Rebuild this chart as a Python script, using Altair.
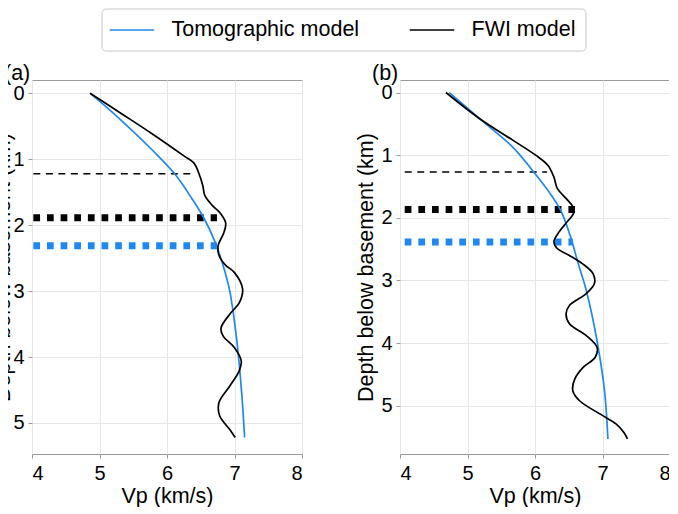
import altair as alt
import pandas as pd

FONT = "Liberation Sans"
SERIES = ["Tomographic model", "FWI model"]
COLORS = ["#1f87f0", "#000000"]
X_TICKS = [4, 5, 6, 7, 8]
Y_TICKS = [0, 1, 2, 3, 4, 5]
PANEL_LABELS = ["(a)", "(b)"]

# Panel (a)
A_TOMO_DEPTH = [0, 0.40, 0.88, 1.23, 1.60, 1.90, 2.25, 2.61, 3.0, 3.63, 4.0, 4.59, 5.22]
A_TOMO_VP = [4.86, 5.31, 5.80, 6.12, 6.37, 6.55, 6.71, 6.83, 6.93, 7.02, 7.06, 7.11, 7.15]
A_FWI_DEPTH = [0, 0.30, 0.63, 0.95, 1.06, 1.21, 1.40, 1.55, 1.70, 1.82, 1.97, 2.12, 2.30,
               2.42, 2.52, 2.61, 2.72, 2.97, 3.18, 3.35, 3.56, 3.68, 3.86, 4.06, 4.21,
               4.44, 4.69, 4.89, 5.10, 5.22]
A_FWI_VP = [4.86, 5.31, 5.80, 6.25, 6.40, 6.47, 6.53, 6.56, 6.67, 6.79, 6.87, 6.84, 6.76,
            6.76, 6.80, 6.87, 7.00, 7.12, 7.07, 6.93, 6.80, 6.83, 7.00, 7.10, 7.07,
            6.93, 6.77, 6.78, 6.93, 7.01]

# Panel (b)
B_TOMO_DEPTH = [0, 0.41, 0.87, 1.24, 1.59, 1.88, 2.28, 2.73, 3.16, 3.91, 4.76, 5.53]
B_TOMO_VP = [4.73, 5.17, 5.67, 5.96, 6.21, 6.38, 6.52, 6.64, 6.76, 6.91, 7.03, 7.08]
B_FWI_DEPTH = [0, 0.41, 0.76, 1.0, 1.16, 1.35, 1.53, 1.69, 1.82, 1.93, 2.06, 2.22, 2.38,
               2.49, 2.60, 2.73, 2.89, 3.05, 3.21, 3.40, 3.53, 3.69, 3.88, 4.07, 4.23,
               4.39, 4.57, 4.76, 4.92, 5.13, 5.29, 5.43, 5.53]
B_FWI_VP = [4.68, 5.17, 5.67, 6.01, 6.19, 6.28, 6.33, 6.46, 6.56, 6.57, 6.48, 6.36, 6.28,
            6.33, 6.51, 6.70, 6.86, 6.88, 6.76, 6.51, 6.46, 6.51, 6.76, 6.92, 6.89,
            6.71, 6.59, 6.56, 6.66, 6.96, 7.20, 7.32, 7.37]

# Horizontal marker lines: depth, start vp, end vp
A_MARK_DEPTH = [1.222, 1.889, 2.313]
A_MARK_X1 = [4.02, 4.02, 4.02]
A_MARK_X2 = [6.345, 6.74, 6.74]
B_MARK_DEPTH = [1.268, 1.869, 2.386]
B_MARK_X1 = [4.07, 4.07, 4.07]
B_MARK_X2 = [6.18, 6.593, 6.56]
MARK_KIND = ["thin", "black", "blue"]

A_YDOMAIN = [-0.2, 5.47]
B_YDOMAIN = [-0.2, 5.77]


def curves(tomo_d, tomo_v, fwi_d, fwi_v):
    rows = []
    for i, (d, v) in enumerate(zip(tomo_d, tomo_v)):
        rows.append({"model": SERIES[0], "depth": d, "vp": v, "idx": i})
    for i, (d, v) in enumerate(zip(fwi_d, fwi_v)):
        rows.append({"model": SERIES[1], "depth": d, "vp": v, "idx": i})
    return pd.DataFrame(rows)


def marks(depth, x1, x2):
    return pd.DataFrame({"kind": MARK_KIND, "depth": depth, "x1": x1, "x2": x2})


def panel(cdf, mdf, ydomain, label, ytitle_x):
    xs = alt.Scale(domain=[4, 8], nice=False, zero=False)
    ys = alt.Scale(domain=ydomain, reverse=True, nice=False, zero=False)
    xax = alt.Axis(values=X_TICKS, title="Vp (km/s)", format="d", grid=True)
    yax = alt.Axis(values=Y_TICKS, title="Depth below basement (km)", format="d",
                   grid=True, titleX=ytitle_x, titleBaseline="alphabetic")

    mb = alt.Chart(mdf)
    thin = mb.transform_filter(alt.datum.kind == "thin").mark_rule(
        color="black", strokeWidth=1.4, strokeDash=[7, 5.5]
    ).encode(x=alt.X("x1:Q", scale=xs, axis=xax), x2="x2:Q",
             y=alt.Y("depth:Q", scale=ys, axis=yax))
    blk = mb.transform_filter(alt.datum.kind == "black").mark_rule(
        color="black", strokeWidth=7, strokeDash=[6.7, 6.94], strokeCap="butt"
    ).encode(x=alt.X("x1:Q", scale=xs, axis=xax), x2="x2:Q",
             y=alt.Y("depth:Q", scale=ys, axis=yax))
    blu = mb.transform_filter(alt.datum.kind == "blue").mark_rule(
        color=COLORS[0], strokeWidth=7, strokeDash=[6.7, 6.94], strokeCap="butt"
    ).encode(x=alt.X("x1:Q", scale=xs, axis=xax), x2="x2:Q",
             y=alt.Y("depth:Q", scale=ys, axis=yax))

    lines = alt.Chart(cdf).mark_line(interpolate="catmull-rom", strokeWidth=1.7).encode(
        x=alt.X("vp:Q", scale=xs, axis=xax),
        y=alt.Y("depth:Q", scale=ys, axis=yax),
        color=alt.Color(
            "model:N",
            scale=alt.Scale(domain=SERIES, range=COLORS),
            legend=alt.Legend(
                orient="none", legendX=69.5, legendY=-71.5, direction="horizontal",
                columns=2, title=None, symbolType="M-2.12,0H2.12", symbolSize=441,
                symbolStrokeWidth=1.6, symbolOffset=9, labelOffset=28,
                columnPadding=47, padding=10, labelFont=FONT, labelFontSize=21.5,
                labelLimit=400, labelColor="black", strokeColor="#c8c8c8",
                fillColor="white", cornerRadius=4,
            ),
        ),
        detail="model:N",
        order="idx:Q",
    )

    tag = alt.Chart(pd.DataFrame({"label": [label]})).mark_text(
        align="left", baseline="alphabetic", font=FONT, fontSize=21.5,
        color="black", dx=-28, dy=0,
    ).encode(text="label:N", x=alt.value(0), y=alt.value(0))

    return alt.layer(thin, blk, blu, lines, tag).properties(width=270, height=374)


pa = panel(curves(A_TOMO_DEPTH, A_TOMO_VP, A_FWI_DEPTH, A_FWI_VP),
           marks(A_MARK_DEPTH, A_MARK_X1, A_MARK_X2), A_YDOMAIN, PANEL_LABELS[0], -23)
pb = panel(curves(B_TOMO_DEPTH, B_TOMO_VP, B_FWI_DEPTH, B_FWI_VP),
           marks(B_MARK_DEPTH, B_MARK_X1, B_MARK_X2), B_YDOMAIN, PANEL_LABELS[1], -27.5)

chart = alt.hconcat(pa, pb, spacing=98, bounds="flush").resolve_scale(
    y="independent"
).properties(
    padding={"left": -17, "top": 0, "right": -2, "bottom": 0},
    background="white",
).configure_view(
    stroke="#9a9a9a", strokeWidth=1
).configure_axis(
    labelFont=FONT, labelFontSize=20, labelColor="black",
    titleFont=FONT, titleFontSize=21.5, titleFontWeight="normal", titleColor="black",
    tickColor="#9a9a9a", tickSize=4, domain=False,
    gridColor="#e6e6e6", gridWidth=1,
).configure_axisX(
    labelPadding=5, titlePadding=2,
).configure_axisY(
    labelPadding=4,
)

chart.save("out.html", embed_options={"renderer": "svg", "actions": False})
